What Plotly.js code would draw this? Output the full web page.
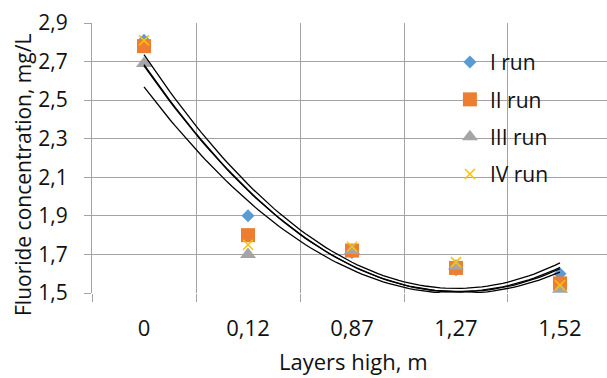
<!DOCTYPE html>
<html>
<head>
<meta charset="utf-8">
<script src="https://cdn.plot.ly/plotly-3.0.1.min.js"></script>
<style>html,body{margin:0;padding:0;overflow:hidden;background:#fff}</style>
</head>
<body>
<div id="chart" style="width:607px;height:378px"></div>
<script>
const categories = ["0", "0,12", "0,87", "1,27", "1,52"];
const runI   = [2.81, 1.90, 1.71, 1.62, 1.60];
const runII  = [2.78, 1.80, 1.72, 1.63, 1.55];
const runIII = [2.69, 1.70, 1.72, 1.64, 1.52];
const runIV  = [2.81, 1.75, 1.74, 1.66, 1.54];
const seriesNames = ["I run", "II run", "III run", "IV run"];

const idx = categories.map((_, i) => i);
const FONT = "Open Sans, sans-serif";
const GRID = "#A3A3A3";

// second-order least-squares trendline on category index (as a spreadsheet trendline does)
function quadFit(ys) {
  const n = ys.length;
  const xs = ys.map((_, i) => i + 1);
  let s = [0,0,0,0,0], t = [0,0,0];
  for (let i = 0; i < n; i++) {
    const x = xs[i], y = ys[i];
    for (let k = 0; k <= 4; k++) s[k] += Math.pow(x, k);
    for (let k = 0; k <= 2; k++) t[k] += Math.pow(x, k) * y;
  }
  const M = [[s[0], s[1], s[2], t[0]], [s[1], s[2], s[3], t[1]], [s[2], s[3], s[4], t[2]]];
  for (let c = 0; c < 3; c++) {
    for (let r = c + 1; r < 3; r++) {
      const f = M[r][c] / M[c][c];
      for (let k = c; k < 4; k++) M[r][k] -= f * M[c][k];
    }
  }
  const coef = [0,0,0];
  for (let r = 2; r >= 0; r--) {
    let v = M[r][3];
    for (let k = r + 1; k < 3; k++) v -= M[r][k] * coef[k];
    coef[r] = v / M[r][r];
  }
  return coef;
}

const series = [runI, runII, runIII, runIV];
const styles = [
  {symbol: "diamond", size: 10, color: "#5B9BD5"},
  {symbol: "square", size: 14, color: "#ED7D31"},
  {symbol: "triangle-up", size: 14, color: "#A5A5A5"},
  {symbol: "x-thin", size: 10, color: "#FFC000"}
];

const traces = [];
series.forEach((ys, s) => {
  const st = styles[s];
  traces.push({
    x: idx, y: ys, type: "scatter", mode: "markers", name: seriesNames[s],
    legendgroup: "g" + s, cliponaxis: false,
    marker: {symbol: st.symbol, size: st.size, color: st.color,
             line: {color: st.color, width: st.symbol === "x-thin" ? 1.5 : 0}}
  });
});
series.forEach((ys, s) => {
  const c = quadFit(ys);
  const tx = [], ty = [];
  for (let k = 0; k <= 80; k++) {
    const xi = (categories.length - 1) * k / 80;
    const xv = xi + 1;
    tx.push(xi);
    ty.push(c[0] + c[1] * xv + c[2] * xv * xv);
  }
  traces.push({x: tx, y: ty, type: "scatter", mode: "lines", showlegend: false,
    legendgroup: "t" + s, hoverinfo: "skip", cliponaxis: false,
    line: {color: "#000", width: 1.3}});
});

const layout = {
  width: 607, height: 378,
  margin: {l: 92, r: 0, t: 23, b: 85},
  paper_bgcolor: "#fff", plot_bgcolor: "#fff",
  separators: ", ",
  font: {family: FONT, size: 22, color: "#111"},
  showlegend: true,
  legend: {x: 0.695, xanchor: "left", y: 0.93, yanchor: "top",
           bgcolor: "rgba(0,0,0,0)", font: {family: FONT, size: 21, color: "#111"},
           tracegroupgap: 7, traceorder: "grouped"},
  xaxis: {
    range: [-0.5, 4.452], tickmode: "array", tickvals: idx, ticktext: categories,
    showgrid: false, zeroline: false, ticks: "", ticklabelstandoff: 20,
    showline: false, tickfont: {family: FONT, size: 22, color: "#111"},
    minor: {tickmode: "linear", tick0: -0.5, dtick: 1, showgrid: true,
            gridcolor: GRID, gridwidth: 1, ticks: "outside", ticklen: 8,
            tickcolor: GRID, tickwidth: 1}
  },
  yaxis: {
    range: [1.5, 2.9], tick0: 1.5, dtick: 0.2, tickformat: ".1f",
    showgrid: true, gridcolor: GRID, gridwidth: 1, zeroline: false,
    showline: true, linecolor: GRID, linewidth: 1,
    ticks: "outside", ticklen: 7, tickcolor: GRID, tickwidth: 1,
    ticklabelstandoff: 12, tickfont: {family: FONT, size: 21, color: "#111"}
  },
  annotations: [
    {text: "Fluoride concentration, mg/L", textangle: -90, showarrow: false,
     xref: "paper", yref: "paper", x: 0, y: 0.437, xanchor: "center", yanchor: "middle",
     xshift: -69, font: {family: FONT, size: 21, color: "#111"}},
    {text: "Layers high, m", showarrow: false,
     xref: "paper", yref: "paper", x: 0.5, y: 0, xanchor: "center", yanchor: "middle",
     xshift: 4, yshift: -68, font: {family: FONT, size: 22, color: "#111"}}
  ]
};

Plotly.newPlot("chart", traces, layout, {displayModeBar: false, staticPlot: true});
</script>
</body>
</html>
